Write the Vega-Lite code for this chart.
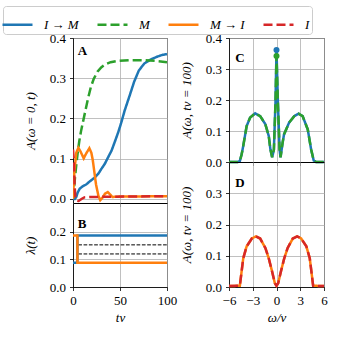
{
  "$schema": "https://vega.github.io/schema/vega-lite/v6.json",
  "padding": {"left": 2, "top": 5, "right": 0, "bottom": 0},
  "config": {
    "font": "Liberation Serif",
    "view": {"stroke": "black", "strokeWidth": 1},
    "axis": {"labelFont": "Liberation Serif", "labelFontSize": 13, "labelColor": "black", "titleFont": "Liberation Serif", "titleFontSize": 13, "titleFontStyle": "italic", "titleFontWeight": "normal", "titleColor": "black", "domainColor": "black", "tickColor": "black", "tickSize": 3.5, "tickWidth": 0.8, "domainWidth": 0.8, "grid": true, "gridColor": "#b0b0b0", "gridWidth": 0.8, "labelPadding": 4, "titlePadding": 4, "labelFlush": false, "labelOverlap": false},
    "axisY": {"titlePadding": 12},
    "legend": {"orient": "none", "legendX": -70, "legendY": -32, "direction": "horizontal", "columns": 4, "symbolType": "stroke", "symbolSize": 900, "symbolStrokeWidth": 2.5, "symbolOffset": -4, "labelFont": "Liberation Serif", "labelFontStyle": "italic", "labelFontSize": 13, "labelColor": "black", "labelExpr": "replace(datum.label, ' → ', '\u2002→\u2002')", "strokeColor": "#cccccc", "fillColor": "white", "cornerRadius": 3, "padding": 2, "labelOffset": 10, "columnPadding": 13}
  },
  "datasets": {
    "A": [
      {"s": "I → M", "t": 0, "v": 0}, {"s": "I → M", "t": 2, "v": 0}, {"s": "I → M", "t": 3.5, "v": 0.005}, {"s": "I → M", "t": 5, "v": 0.016}, {"s": "I → M", "t": 7, "v": 0.025}, {"s": "I → M", "t": 10, "v": 0.031}, {"s": "I → M", "t": 14, "v": 0.036}, {"s": "I → M", "t": 18, "v": 0.044}, {"s": "I → M", "t": 23, "v": 0.053}, {"s": "I → M", "t": 27, "v": 0.063}, {"s": "I → M", "t": 30, "v": 0.074}, {"s": "I → M", "t": 34, "v": 0.088}, {"s": "I → M", "t": 37, "v": 0.102}, {"s": "I → M", "t": 41, "v": 0.12}, {"s": "I → M", "t": 44, "v": 0.139}, {"s": "I → M", "t": 48, "v": 0.165}, {"s": "I → M", "t": 51, "v": 0.187}, {"s": "I → M", "t": 55, "v": 0.22}, {"s": "I → M", "t": 60, "v": 0.255}, {"s": "I → M", "t": 65, "v": 0.291}, {"s": "I → M", "t": 70, "v": 0.319}, {"s": "I → M", "t": 76, "v": 0.337}, {"s": "I → M", "t": 83, "v": 0.347}, {"s": "I → M", "t": 90, "v": 0.354}, {"s": "I → M", "t": 95, "v": 0.358}, {"s": "I → M", "t": 100, "v": 0.36},
      {"s": "M", "t": 0, "v": 0}, {"s": "M", "t": 2, "v": 0.05}, {"s": "M", "t": 3.5, "v": 0.085}, {"s": "M", "t": 5, "v": 0.115}, {"s": "M", "t": 6.7, "v": 0.144}, {"s": "M", "t": 8.5, "v": 0.168}, {"s": "M", "t": 10.3, "v": 0.188}, {"s": "M", "t": 13.8, "v": 0.226}, {"s": "M", "t": 16, "v": 0.25}, {"s": "M", "t": 19, "v": 0.278}, {"s": "M", "t": 22, "v": 0.298}, {"s": "M", "t": 26, "v": 0.316}, {"s": "M", "t": 30, "v": 0.327}, {"s": "M", "t": 34, "v": 0.334}, {"s": "M", "t": 40, "v": 0.34}, {"s": "M", "t": 47, "v": 0.343}, {"s": "M", "t": 60, "v": 0.345}, {"s": "M", "t": 75, "v": 0.345}, {"s": "M", "t": 88, "v": 0.343}, {"s": "M", "t": 100, "v": 0.34},
      {"s": "M → I", "t": 0, "v": 0}, {"s": "M → I", "t": 1.5, "v": 0.07}, {"s": "M → I", "t": 3.5, "v": 0.115}, {"s": "M → I", "t": 5.7, "v": 0.127}, {"s": "M → I", "t": 8, "v": 0.118}, {"s": "M → I", "t": 11.4, "v": 0.101}, {"s": "M → I", "t": 14, "v": 0.113}, {"s": "M → I", "t": 17.4, "v": 0.126}, {"s": "M → I", "t": 19.5, "v": 0.115}, {"s": "M → I", "t": 21, "v": 0.097}, {"s": "M → I", "t": 24.5, "v": 0.036}, {"s": "M → I", "t": 27, "v": 0.008}, {"s": "M → I", "t": 29, "v": -0.003}, {"s": "M → I", "t": 31, "v": 0.002}, {"s": "M → I", "t": 34, "v": 0.013}, {"s": "M → I", "t": 37, "v": 0.017}, {"s": "M → I", "t": 40, "v": 0.01}, {"s": "M → I", "t": 42, "v": 0.005}, {"s": "M → I", "t": 50, "v": 0.006}, {"s": "M → I", "t": 100, "v": 0.007},
      {"s": "I", "t": 0, "v": 0.123}, {"s": "I", "t": 1, "v": 0.09}, {"s": "I", "t": 1.8, "v": 0.03}, {"s": "I", "t": 2.5, "v": 0.005}, {"s": "I", "t": 4, "v": -0.004}, {"s": "I", "t": 6, "v": -0.005}, {"s": "I", "t": 9, "v": 0}, {"s": "I", "t": 12, "v": 0.004}, {"s": "I", "t": 20, "v": 0.005}, {"s": "I", "t": 100, "v": 0.007}
    ],
    "B": [
      {"s": "I → M", "t": 0, "v": 0.088}, {"s": "I → M", "t": 4.7, "v": 0.187}, {"s": "I → M", "t": 100, "v": 0.187},
      {"s": "M → I", "t": 0, "v": 0.187}, {"s": "M → I", "t": 4.7, "v": 0.088}, {"s": "M → I", "t": 100, "v": 0.088}
    ],
    "Bref": [
      {"t": 5.6, "t2": 100, "v": 0.153}, {"t": 5.6, "t2": 100, "v": 0.12}
    ],
    "C": [
      {"s": "I → M", "w": -6, "v": 0.0}, {"s": "I → M", "w": -4.9, "v": 0.0}, {"s": "I → M", "w": -4.63, "v": 0.003}, {"s": "I → M", "w": -4.4, "v": 0.025}, {"s": "I → M", "w": -4.2, "v": 0.052}, {"s": "I → M", "w": -3.77, "v": 0.116}, {"s": "I → M", "w": -3.34, "v": 0.143}, {"s": "I → M", "w": -2.7, "v": 0.157}, {"s": "I → M", "w": -2.06, "v": 0.148}, {"s": "I → M", "w": -1.41, "v": 0.122}, {"s": "I → M", "w": -0.98, "v": 0.084}, {"s": "I → M", "w": -0.77, "v": 0.041}, {"s": "I → M", "w": -0.55, "v": 0.015}, {"s": "I → M", "w": -0.33, "v": 0.04}, {"s": "I → M", "w": -0.13, "v": 0.19}, {"s": "I → M", "w": 0, "v": 0.361}, {"s": "I → M", "w": 0.18, "v": 0.19}, {"s": "I → M", "w": 0.39, "v": 0.04}, {"s": "I → M", "w": 0.51, "v": 0.015}, {"s": "I → M", "w": 0.77, "v": 0.062}, {"s": "I → M", "w": 0.95, "v": 0.089}, {"s": "I → M", "w": 1.59, "v": 0.127}, {"s": "I → M", "w": 2.24, "v": 0.148}, {"s": "I → M", "w": 2.79, "v": 0.156}, {"s": "I → M", "w": 3.3, "v": 0.148}, {"s": "I → M", "w": 3.95, "v": 0.105}, {"s": "I → M", "w": 4.37, "v": 0.041}, {"s": "I → M", "w": 4.7, "v": 0.005}, {"s": "I → M", "w": 5, "v": 0.0}, {"s": "I → M", "w": 6, "v": 0.0},
      {"s": "M", "w": -6, "v": 0.0}, {"s": "M", "w": -4.9, "v": 0.0}, {"s": "M", "w": -4.63, "v": 0.003}, {"s": "M", "w": -4.4, "v": 0.025}, {"s": "M", "w": -4.2, "v": 0.052}, {"s": "M", "w": -3.77, "v": 0.116}, {"s": "M", "w": -3.34, "v": 0.143}, {"s": "M", "w": -2.7, "v": 0.157}, {"s": "M", "w": -2.06, "v": 0.148}, {"s": "M", "w": -1.41, "v": 0.122}, {"s": "M", "w": -0.98, "v": 0.084}, {"s": "M", "w": -0.77, "v": 0.041}, {"s": "M", "w": -0.55, "v": 0.015}, {"s": "M", "w": -0.33, "v": 0.04}, {"s": "M", "w": -0.13, "v": 0.19}, {"s": "M", "w": 0, "v": 0.342}, {"s": "M", "w": 0.18, "v": 0.19}, {"s": "M", "w": 0.39, "v": 0.04}, {"s": "M", "w": 0.51, "v": 0.015}, {"s": "M", "w": 0.77, "v": 0.062}, {"s": "M", "w": 0.95, "v": 0.089}, {"s": "M", "w": 1.59, "v": 0.127}, {"s": "M", "w": 2.24, "v": 0.148}, {"s": "M", "w": 2.79, "v": 0.156}, {"s": "M", "w": 3.3, "v": 0.148}, {"s": "M", "w": 3.95, "v": 0.105}, {"s": "M", "w": 4.37, "v": 0.041}, {"s": "M", "w": 4.7, "v": 0.005}, {"s": "M", "w": 5, "v": 0.0}, {"s": "M", "w": 6, "v": 0.0}
    ],
    "Cpk": [
      {"s": "I → M", "w": 0, "v": 0.361}, {"s": "M", "w": 0, "v": 0.342}
    ],
    "D": [
      {"s": "M → I", "w": -6, "v": 0.003}, {"s": "M → I", "w": -4.63, "v": 0.004}, {"s": "M → I", "w": -4.41, "v": 0.049}, {"s": "M → I", "w": -4.2, "v": 0.092}, {"s": "M → I", "w": -3.77, "v": 0.13}, {"s": "M → I", "w": -3.12, "v": 0.155}, {"s": "M → I", "w": -2.61, "v": 0.162}, {"s": "M → I", "w": -2.06, "v": 0.155}, {"s": "M → I", "w": -1.41, "v": 0.125}, {"s": "M → I", "w": -0.98, "v": 0.092}, {"s": "M → I", "w": -0.55, "v": 0.049}, {"s": "M → I", "w": -0.21, "v": 0.012}, {"s": "M → I", "w": 0, "v": 0.004}, {"s": "M → I", "w": 0.21, "v": 0.012}, {"s": "M → I", "w": 0.55, "v": 0.049}, {"s": "M → I", "w": 0.98, "v": 0.092}, {"s": "M → I", "w": 1.41, "v": 0.125}, {"s": "M → I", "w": 2.06, "v": 0.155}, {"s": "M → I", "w": 2.61, "v": 0.162}, {"s": "M → I", "w": 3.12, "v": 0.155}, {"s": "M → I", "w": 3.77, "v": 0.13}, {"s": "M → I", "w": 4.2, "v": 0.092}, {"s": "M → I", "w": 4.41, "v": 0.049}, {"s": "M → I", "w": 4.63, "v": 0.004}, {"s": "M → I", "w": 6, "v": 0.003},
      {"s": "I", "w": -6, "v": 0.003}, {"s": "I", "w": -4.63, "v": 0.004}, {"s": "I", "w": -4.41, "v": 0.049}, {"s": "I", "w": -4.2, "v": 0.092}, {"s": "I", "w": -3.77, "v": 0.13}, {"s": "I", "w": -3.12, "v": 0.155}, {"s": "I", "w": -2.61, "v": 0.162}, {"s": "I", "w": -2.06, "v": 0.155}, {"s": "I", "w": -1.41, "v": 0.125}, {"s": "I", "w": -0.98, "v": 0.092}, {"s": "I", "w": -0.55, "v": 0.049}, {"s": "I", "w": -0.21, "v": 0.012}, {"s": "I", "w": 0, "v": 0.004}, {"s": "I", "w": 0.21, "v": 0.012}, {"s": "I", "w": 0.55, "v": 0.049}, {"s": "I", "w": 0.98, "v": 0.092}, {"s": "I", "w": 1.41, "v": 0.125}, {"s": "I", "w": 2.06, "v": 0.155}, {"s": "I", "w": 2.61, "v": 0.162}, {"s": "I", "w": 3.12, "v": 0.155}, {"s": "I", "w": 3.77, "v": 0.13}, {"s": "I", "w": 4.2, "v": 0.092}, {"s": "I", "w": 4.41, "v": 0.049}, {"s": "I", "w": 4.63, "v": 0.004}, {"s": "I", "w": 6, "v": 0.003}
    ]
  },
  "hconcat": [
    {
      "vconcat": [
        {
          "width": 94, "height": 165,
          "encoding": {
            "x": {"field": "t", "type": "quantitative", "scale": {"domain": [0, 100], "nice": false}, "axis": {"values": [0, 50, 100], "labels": false, "title": null}},
            "y": {"field": "v", "type": "quantitative", "scale": {"domain": [-0.01, 0.4], "nice": false}, "axis": {"values": [0, 0.1, 0.2, 0.3, 0.4], "format": ".1f", "title": "A(ω = 0, t)"}}
          },
          "layer": [
            {
              "data": {"name": "A"},
              "mark": {"type": "line", "strokeWidth": 2.5, "clip": true},
              "encoding": {
                "color": {"field": "s", "type": "nominal", "title": null, "scale": {"domain": ["I → M", "M", "M → I", "I"], "range": ["#1f77b4", "#2ca02c", "#ff7f0e", "#d62728"]}},
                "strokeDash": {"field": "s", "type": "nominal", "title": null, "scale": {"domain": ["I → M", "M", "M → I", "I"], "range": [[1, 0], [9, 4], [1, 0], [9, 4]]}}
              }
            },
            {
              "data": {"values": [{"t": 5, "v": 0.383, "p": "A"}]},
              "mark": {"type": "text", "align": "left", "baseline": "top", "fontWeight": "bold", "fontSize": 13, "font": "Liberation Serif"},
              "encoding": {"text": {"field": "p"}}
            }
          ]
        },
        {
          "width": 94, "height": 84,
          "encoding": {
            "x": {"field": "t", "type": "quantitative", "scale": {"domain": [0, 100], "nice": false}, "axis": {"values": [0, 50, 100], "title": "tv"}},
            "y": {"field": "v", "type": "quantitative", "scale": {"domain": [0, 0.305], "nice": false}, "axis": {"values": [0, 0.1, 0.2], "format": ".1f", "title": "λ(t)"}}
          },
          "layer": [
            {
              "data": {"name": "Bref"},
              "mark": {"type": "rule", "color": "black", "strokeWidth": 1, "strokeDash": [3.7, 1.6]},
              "encoding": {"x2": {"field": "t2"}}
            },
            {
              "data": {"name": "B"},
              "mark": {"type": "line", "strokeWidth": 2.5, "interpolate": "step-after"},
              "encoding": {
                "color": {"field": "s", "type": "nominal", "title": null, "scale": {"domain": ["I → M", "M", "M → I", "I"], "range": ["#1f77b4", "#2ca02c", "#ff7f0e", "#d62728"]}},
                "strokeDash": {"field": "s", "type": "nominal", "title": null, "scale": {"domain": ["I → M", "M", "M → I", "I"], "range": [[1, 0], [9, 4], [1, 0], [9, 4]]}}
              }
            },
            {
              "data": {"values": [{"t": 5, "v": 0.215, "p": "B"}]},
              "mark": {"type": "text", "align": "left", "baseline": "alphabetic", "fontWeight": "bold", "fontSize": 13, "font": "Liberation Serif"},
              "encoding": {"text": {"field": "p"}}
            }
          ]
        }
      ],
      "spacing": 0,
      "bounds": "flush"
    },
    {
      "vconcat": [
        {
          "width": 95, "height": 124,
          "encoding": {
            "x": {"field": "w", "type": "quantitative", "scale": {"domain": [-6, 6], "nice": false}, "axis": {"values": [-6, -3, 0, 3, 6], "labels": false, "title": null, "grid": true}},
            "y": {"field": "v", "type": "quantitative", "scale": {"domain": [0, 0.4], "nice": false}, "axis": {"values": [0, 0.1, 0.2, 0.3, 0.4], "format": ".1f", "title": "A(ω, tv = 100)"}}
          },
          "layer": [
            {
              "data": {"name": "C"},
              "mark": {"type": "line", "strokeWidth": 2.5},
              "encoding": {
                "color": {"field": "s", "type": "nominal", "title": null, "scale": {"domain": ["I → M", "M", "M → I", "I"], "range": ["#1f77b4", "#2ca02c", "#ff7f0e", "#d62728"]}},
                "strokeDash": {"field": "s", "type": "nominal", "title": null, "scale": {"domain": ["I → M", "M", "M → I", "I"], "range": [[1, 0], [9, 4], [1, 0], [9, 4]]}}
              }
            },
            {
              "data": {"name": "Cpk"},
              "transform": [{"filter": "datum.s == 'I → M'"}],
              "mark": {"type": "circle", "size": 36, "color": "#1f77b4", "opacity": 1}
            },
            {
              "data": {"name": "Cpk"},
              "transform": [{"filter": "datum.s == 'M'"}],
              "mark": {"type": "circle", "size": 36, "color": "#2ca02c", "opacity": 1}
            },
            {
              "data": {"values": [{"w": -5.2, "v": 0.323, "p": "C"}]},
              "mark": {"type": "text", "align": "left", "baseline": "alphabetic", "fontWeight": "bold", "fontSize": 13, "font": "Liberation Serif"},
              "encoding": {"text": {"field": "p"}}
            }
          ]
        },
        {
          "width": 95, "height": 125,
          "encoding": {
            "x": {"field": "w", "type": "quantitative", "scale": {"domain": [-6, 6], "nice": false}, "axis": {"values": [-6, -3, 0, 3, 6], "title": "ω/v", "grid": true}},
            "y": {"field": "v", "type": "quantitative", "scale": {"domain": [0, 0.4], "nice": false}, "axis": {"values": [0, 0.1, 0.2, 0.3], "format": ".1f", "title": "A(ω, tv = 100)"}}
          },
          "layer": [
            {
              "data": {"name": "D"},
              "mark": {"type": "line", "strokeWidth": 2.5},
              "encoding": {
                "color": {"field": "s", "type": "nominal", "title": null, "scale": {"domain": ["I → M", "M", "M → I", "I"], "range": ["#1f77b4", "#2ca02c", "#ff7f0e", "#d62728"]}},
                "strokeDash": {"field": "s", "type": "nominal", "title": null, "scale": {"domain": ["I → M", "M", "M → I", "I"], "range": [[1, 0], [9, 4], [1, 0], [9, 4]]}}
              }
            },
            {
              "data": {"values": [{"w": -5.2, "v": 0.32, "p": "D"}]},
              "mark": {"type": "text", "align": "left", "baseline": "alphabetic", "fontWeight": "bold", "fontSize": 13, "font": "Liberation Serif"},
              "encoding": {"text": {"field": "p"}}
            }
          ]
        }
      ],
      "spacing": 0,
      "bounds": "flush"
    }
  ],
  "spacing": 1,
  "bounds": "full"
}
